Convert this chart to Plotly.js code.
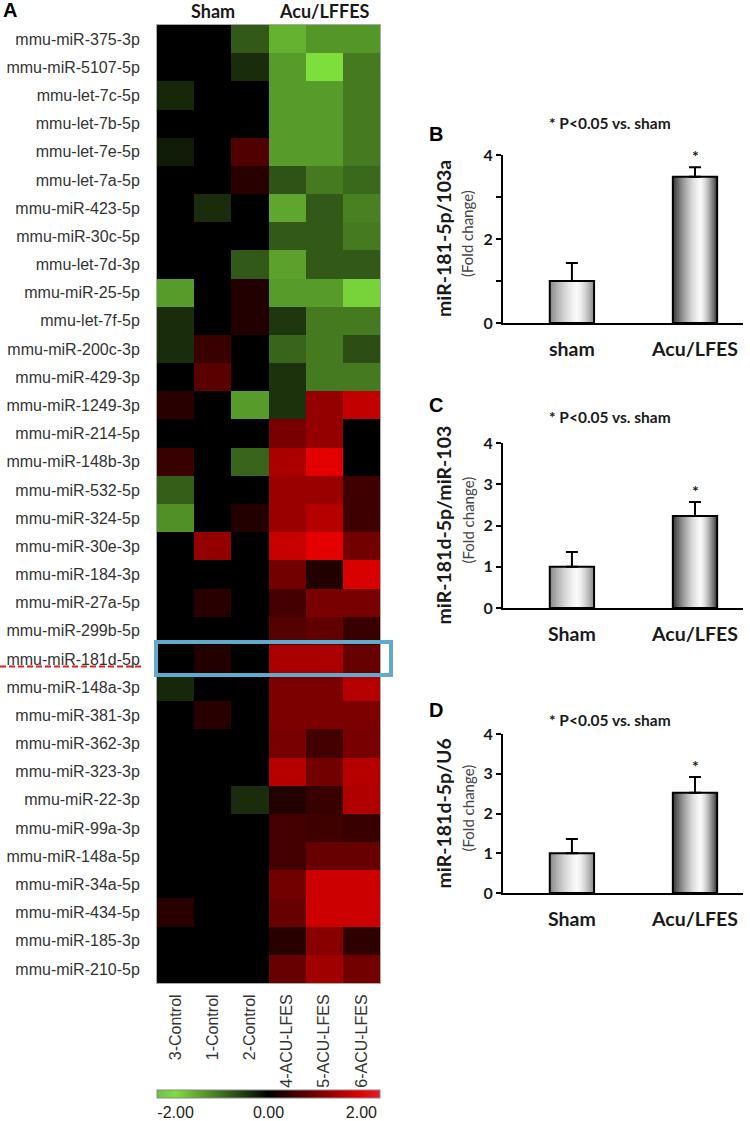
<!DOCTYPE html>
<html><head><meta charset="utf-8">
<script src="https://cdn.plot.ly/plotly-3.0.1.min.js"></script>
<style>html,body{margin:0;padding:0;background:#fff}</style>
</head><body>
<div id="chart" style="width:750px;height:1121px"></div>
<script>
// ---------------- DATA ----------------
const geneLabels = [
  'mmu-miR-375-3p','mmu-miR-5107-5p','mmu-let-7c-5p','mmu-let-7b-5p','mmu-let-7e-5p','mmu-let-7a-5p',
  'mmu-miR-423-5p','mmu-miR-30c-5p','mmu-let-7d-3p','mmu-miR-25-5p','mmu-let-7f-5p','mmu-miR-200c-3p',
  'mmu-miR-429-3p','mmu-miR-1249-3p','mmu-miR-214-5p','mmu-miR-148b-3p','mmu-miR-532-5p','mmu-miR-324-5p',
  'mmu-miR-30e-3p','mmu-miR-184-3p','mmu-miR-27a-5p','mmu-miR-299b-5p','mmu-miR-181d-5p','mmu-miR-148a-3p',
  'mmu-miR-381-3p','mmu-miR-362-3p','mmu-miR-323-3p','mmu-miR-22-3p','mmu-miR-99a-3p','mmu-miR-148a-5p',
  'mmu-miR-34a-5p','mmu-miR-434-5p','mmu-miR-185-3p','mmu-miR-210-5p'
];
const sampleLabels = ['3-Control','1-Control','2-Control','4-ACU-LFES','5-ACU-LFES','6-ACU-LFES'];
const zValues = [
  [0, 0, -0.8, -1.6, -1.35, -1.35],
  [0, 0, -0.4, -1.4, -2.0, -1.1],
  [-0.35, 0, 0, -1.4, -1.4, -1.1],
  [0, 0, 0, -1.4, -1.4, -1.1],
  [-0.25, 0, 0.7, -1.4, -1.4, -1.1],
  [0, 0, 0.35, -0.75, -1.1, -0.95],
  [0, -0.4, 0, -1.5, -0.8, -1.15],
  [0, 0, 0, -0.8, -0.8, -1.1],
  [0, 0, -0.8, -1.45, -0.8, -0.8],
  [-1.4, 0, 0.3, -1.4, -1.4, -1.9],
  [-0.4, 0, 0.3, -0.5, -1.1, -1.1],
  [-0.4, 0.5, 0, -0.9, -1.1, -0.7],
  [0, 0.8, 0, -0.45, -1.1, -1.1],
  [0.35, 0, -1.4, -0.45, 1.3, 1.7],
  [0, 0, 0, 1.05, 1.3, 0],
  [0.5, 0, -0.9, 1.5, 2.0, 0],
  [-0.85, 0, 0, 1.35, 1.35, 0.55],
  [-1.3, 0, 0.3, 1.35, 1.6, 0.55],
  [0, 1.3, 0, 1.75, 2.0, 1.0],
  [0, 0, 0, 1.0, 0.3, 1.9],
  [0, 0.35, 0, 0.6, 1.05, 1.05],
  [0, 0, 0, 0.75, 0.85, 0.5],
  [0, 0.3, 0, 1.5, 1.5, 0.9],
  [-0.35, 0, 0, 1.1, 1.1, 1.6],
  [0, 0.35, 0, 1.1, 1.1, 1.1],
  [0, 0, 0, 1.05, 0.6, 1.05],
  [0, 0, 0, 1.6, 1.0, 1.6],
  [0, 0, -0.4, 0.3, 0.5, 1.55],
  [0, 0, 0, 0.6, 0.55, 0.5],
  [0, 0, 0, 0.6, 0.9, 0.9],
  [0, 0, 0, 1.0, 1.8, 1.8],
  [0.35, 0, 0, 0.9, 1.8, 1.8],
  [0, 0, 0, 0.35, 1.2, 0.4],
  [0, 0, 0, 0.9, 1.4, 1.0]
];
const highlightGene = 'mmu-miR-181d-5p';
const groupHeaders = ['Sham', 'Acu/LFFES'];
const colorbarTicks = [-2, 0, 2];
const colorbarTickText = ['-2.00', '0.00', '2.00'];

const panelLetters = ['A', 'B', 'C', 'D'];
const sigTitle = '* P<0.05 vs. sham';

const groupsB = ['sham', 'Acu/LFES'];
const meansB = [1.0, 3.48];
const semB = [0.43, 0.23];
const yTitleB = 'miR-181-5p/103a';
const yTicksB = [0, 1, 2, 3, 4];
const yTickTextB = ['0', '', '2', '', '4'];

const groupsC = ['Sham', 'Acu/LFES'];
const meansC = [1.0, 2.23];
const semC = [0.36, 0.34];
const yTitleC = 'miR-181d-5p/miR-103';
const yTicksC = [0, 1, 2, 3, 4];
const yTickTextC = ['0', '1', '2', '3', '4'];

const groupsD = ['Sham', 'Acu/LFES'];
const meansD = [1.0, 2.52];
const semD = [0.36, 0.40];
const yTitleD = 'miR-181d-5p/U6';
const yTicksD = [0, 1, 2, 3, 4];
const yTickTextD = ['0', '1', '2', '3', '4'];

const significant = [false, true];
const yUnitsLabel = '(Fold change)';

// ---------------- GEOMETRY ----------------
const W = 750, H = 1121;
const fx = p => p / W;
const fy = p => 1 - p / H;

const heatX = [157, 380], heatY = [25, 983];
const barX = [503, 743];
const barPanels = [
  {groups: groupsB, means: meansB, sem: semB, title: yTitleB, tv: yTicksB, tt: yTickTextB, top: 155, bottom: 323, letterY: 134, titleY: 123, ax: '2'},
  {groups: groupsC, means: meansC, sem: semC, title: yTitleC, tv: yTicksC, tt: yTickTextC, top: 443, bottom: 608, letterY: 405, titleY: 417, ax: '3'},
  {groups: groupsD, means: meansD, sem: semD, title: yTitleD, tv: yTicksD, tt: yTickTextD, top: 734, bottom: 893, letterY: 710, titleY: 720, ax: '4'}
];

const armFont = 'Liberation Sans, Arial, sans-serif';
const boldFont = 'Lato, Open Sans, sans-serif';

// ---------------- TRACES ----------------
const traces = [];
traces.push({
  type: 'heatmap', x: sampleLabels, y: geneLabels, z: zValues,
  xaxis: 'x', yaxis: 'y', zmin: -2.4, zmax: 2.4,
  colorscale: [[0, 'rgb(112,190,72)'], [0.0833, 'rgb(125,222,60)'], [0.5, 'rgb(0,0,0)'], [0.9167, 'rgb(228,0,0)'], [1, 'rgb(222,32,42)']],
  hoverinfo: 'skip',
  colorbar: {
    orientation: 'h', x: fx((heatX[0] + heatX[1]) / 2), xanchor: 'center',
    y: fy(1090), yanchor: 'top', len: (heatX[1] - heatX[0]) / W, lenmode: 'fraction',
    thickness: 8, xpad: 0, ypad: 0, outlinewidth: 1, outlinecolor: '#888',
    tickvals: colorbarTicks, ticktext: colorbarTickText, ticks: '',
    tickfont: {family: armFont, size: 16, color: '#222'}
  }
});

const nLayers = 18, barW = 0.36, hl = 0.62;
const outerColors = [[140, 140, 140], [62, 62, 62]];
const innerColor = [250, 250, 250];
function mix(a, b, t) { return 'rgb(' + a.map((v, i) => Math.round(v + (b[i] - v) * t)).join(',') + ')'; }

barPanels.forEach(p => {
  const xa = 'x' + p.ax, ya = 'y' + p.ax;
  for (let k = 0; k < nLayers; k++) {
    const t = k / nLayers;
    const f = 1 - Math.pow(1 - t, 1.5);
    traces.push({
      type: 'bar', x: p.groups, y: p.means, xaxis: xa, yaxis: ya,
      width: barW * (1 - t), offset: -barW / 2 + barW * hl * t,
      marker: {color: p.groups.map((g, i) => mix(outerColors[i], innerColor, f)), line: {width: 0}},
      hoverinfo: 'skip', showlegend: false
    });
  }
  traces.push({
    type: 'bar', x: p.groups, y: p.means, xaxis: xa, yaxis: ya,
    width: barW, offset: -barW / 2,
    marker: {color: 'rgba(0,0,0,0)', line: {width: 2, color: '#000'}},
    error_y: {type: 'data', array: p.sem, arrayminus: p.sem.map(() => 0), symmetric: false, thickness: 2, width: 6, color: '#000'},
    hoverinfo: 'skip', showlegend: false
  });
});

// ---------------- LAYOUT ----------------
const layout = {
  width: W, height: H, margin: {l: 0, r: 0, t: 0, b: 0, pad: 0},
  paper_bgcolor: '#fff', plot_bgcolor: 'rgba(0,0,0,0)', showlegend: false, barmode: 'overlay',
  xaxis: {
    domain: [fx(heatX[0]), fx(heatX[1])], anchor: 'y', tickangle: -90, ticks: '', automargin: false,
    range: [-0.5, sampleLabels.length - 0.5], autorange: false,
    tickfont: {family: armFont, size: 16, color: '#333'}, showline: true, mirror: true, linecolor: '#aaa', linewidth: 1,
    ticklabelstandoff: 4, showgrid: false, zeroline: false
  },
  yaxis: {
    domain: [fy(heatY[1]), fy(heatY[0])], anchor: 'x', ticks: '', automargin: false,
    range: [geneLabels.length - 0.5, -0.5], autorange: false,
    ticklabelstandoff: 13, tickfont: {family: armFont, size: 16, color: '#333'},
    showline: true, mirror: true, linecolor: '#aaa', linewidth: 1, showgrid: false, zeroline: false
  },
  shapes: [], annotations: []
};

barPanels.forEach(p => {
  layout['xaxis' + p.ax] = {
    domain: [fx(barX[0]), fx(barX[1])], anchor: 'y' + p.ax, type: 'category', range: [-0.56, 1.39], automargin: false,
    showline: true, linecolor: '#000', linewidth: 2, ticks: '', showgrid: false, zeroline: false,
    ticklabelstandoff: 8, tickfont: {family: boldFont, size: 19.5, weight: 'bold', color: '#1a1a1a'}
  };
  layout['yaxis' + p.ax] = {
    domain: [fy(p.bottom), fy(p.top)], anchor: 'x' + p.ax, range: [0, 4], automargin: false,
    tickvals: p.tv, ticktext: p.tt, ticks: 'outside', ticklen: 5, tickwidth: 2, tickcolor: '#000',
    showline: true, linecolor: '#000', linewidth: 2, showgrid: false, zeroline: false,
    tickfont: {family: boldFont, size: 16, weight: 'bold', color: '#1a1a1a'}
  };
  const cy = fy((p.top + p.bottom) / 2);
  layout.annotations.push({
    xref: 'paper', yref: 'paper', x: fx(443), y: cy, text: p.title, textangle: -90, showarrow: false,
    xanchor: 'center', yanchor: 'middle', font: {family: boldFont, size: 19.5, weight: 'bold', color: '#1a1a1a'}
  });
  layout.annotations.push({
    xref: 'paper', yref: 'paper', x: fx(467), y: cy, yshift: 5, text: yUnitsLabel, textangle: -90, showarrow: false,
    xanchor: 'center', yanchor: 'middle', font: {family: boldFont, size: 15, color: '#444'}
  });
  layout.annotations.push({
    xref: 'paper', yref: 'paper', x: fx(610), y: fy(p.titleY), text: sigTitle, showarrow: false,
    xanchor: 'center', yanchor: 'middle', font: {family: boldFont, size: 15.5, weight: 'bold', color: '#1a1a1a'}
  });
  p.groups.forEach((g, i) => {
    if (significant[i]) {
      layout.annotations.push({
        xref: 'x' + p.ax, yref: 'y' + p.ax, x: g, y: p.means[i] + p.sem[i], text: '*', showarrow: false,
        xanchor: 'center', yanchor: 'bottom', yshift: 0, font: {family: boldFont, size: 16, weight: 'bold', color: '#1a1a1a'}
      });
    }
  });
});

// panel letters
layout.annotations.push({xref: 'paper', yref: 'paper', x: fx(1), y: fy(10), text: panelLetters[0], showarrow: false,
  xanchor: 'left', yanchor: 'middle', font: {family: armFont, size: 20, weight: 'bold', color: '#000'}});
barPanels.forEach((p, i) => {
  layout.annotations.push({xref: 'paper', yref: 'paper', x: fx(427), y: fy(p.letterY), text: panelLetters[i + 1], showarrow: false,
    xanchor: 'left', yanchor: 'middle', font: {family: armFont, size: 20, weight: 'bold', color: '#000'}});
});

// group headers over heatmap
const colW = (heatX[1] - heatX[0]) / sampleLabels.length;
layout.annotations.push({xref: 'paper', yref: 'paper', x: fx(heatX[0] + colW * 1.5), y: fy(11), text: groupHeaders[0], showarrow: false,
  xanchor: 'center', yanchor: 'middle', font: {family: boldFont, size: 18, weight: 'bold', color: '#1a1a1a'}});
layout.annotations.push({xref: 'paper', yref: 'paper', x: fx(heatX[0] + colW * 4.5), y: fy(11), text: groupHeaders[1], showarrow: false,
  xanchor: 'center', yanchor: 'middle', font: {family: boldFont, size: 18, weight: 'bold', color: '#1a1a1a'}});

// highlight box and dashed underline
const hi = geneLabels.indexOf(highlightGene);
layout.shapes.push({type: 'rect', xref: 'paper', yref: 'y', x0: fx(156), x1: fx(391), y0: hi - 0.6, y1: hi + 0.57,
  line: {color: 'rgb(95,170,205)', width: 4}, fillcolor: 'rgba(0,0,0,0)'});
layout.shapes.push({type: 'line', xref: 'paper', yref: 'y', x0: 0, x1: fx(142), y0: hi + 0.27, y1: hi + 0.27,
  line: {color: 'rgb(230,30,30)', width: 2, dash: '6px,3px'}});

Plotly.newPlot('chart', traces, layout, {staticPlot: true, displayModeBar: false});
</script>
</body></html>
